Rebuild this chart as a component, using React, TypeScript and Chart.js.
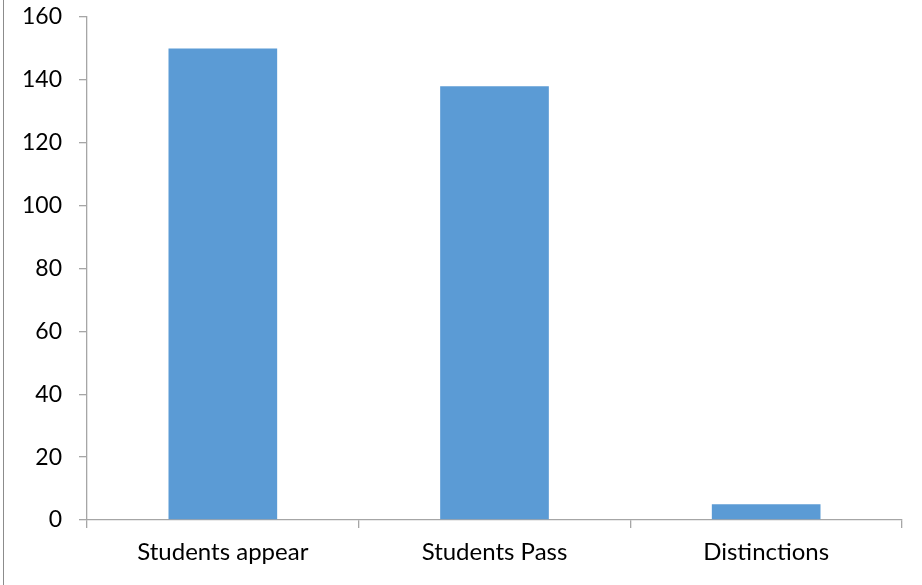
import React, { useEffect, useRef } from "react";
import { Chart, registerables } from "chart.js";

Chart.register(...registerables);

const categories: string[] = ["Students appear", "Students Pass", "Distinctions"];
const values: number[] = [150, 138, 5];
const yMin = 0;
const yMax = 160;
const yStep = 20;

const FONT = "Lato, 'Open Sans', sans-serif";

export default function App() {
  const ref = useRef<HTMLCanvasElement | null>(null);

  useEffect(() => {
    document.body.style.margin = "0";
    const canvas = ref.current;
    if (!canvas) return;
    const axisColor = "#A6A6A6";
    const chart = new Chart(canvas, {
      type: "bar",
      data: {
        labels: categories,
        datasets: [
          {
            data: values,
            backgroundColor: "#5B9BD5",
            borderWidth: 0,
            barPercentage: 0.4,
            categoryPercentage: 1,
          },
        ],
      },
      options: {
        animation: false,
        responsive: false,
        devicePixelRatio: 1,
        layout: { padding: { left: 0, right: 20, top: 0, bottom: 0 } },
        plugins: {
          legend: { display: false },
          tooltip: { enabled: false },
        },
        scales: {
          x: {
            offset: true,
            grid: {
              offset: true,
              drawOnChartArea: false,
              drawTicks: true,
              tickLength: 8,
              color: axisColor,
              lineWidth: 1.3,
            },
            border: { display: true, color: axisColor, width: 1.3 },
            ticks: {
              color: "#000",
              font: { family: FONT, size: 24 },
              padding: 10,
              maxRotation: 0,
            },
            afterFit: (s: any) => {
              s.height = 65;
              s.paddingLeft = 0;
              s.paddingRight = 0;
            },
          },
          y: {
            min: yMin,
            max: yMax,
            ticks: {
              stepSize: yStep,
              color: "#000",
              font: { family: FONT, size: 23 },
              padding: 17,
            },
            grid: {
              drawOnChartArea: false,
              drawTicks: true,
              tickLength: 8,
              color: axisColor,
              lineWidth: 1.3,
            },
            border: { display: true, color: axisColor, width: 1.3 },
            afterFit: (s: any) => {
              s.width = 87;
              s.paddingTop = 17;
              s.paddingBottom = 0;
            },
          },
        },
      },
    });
    return () => chart.destroy();
  }, []);

  return (
    <div
      style={{
        position: "fixed",
        left: 0,
        top: 0,
        width: 922,
        height: 585,
        background: "#fff",
      }}
    >
      <div
        style={{
          position: "absolute",
          left: 3,
          top: 0,
          width: 0,
          height: 585,
          borderLeft: "1px solid #8c8c8c",
        }}
      />
      <canvas ref={ref} width={922} height={585} style={{ display: "block" }} />
    </div>
  );
}
